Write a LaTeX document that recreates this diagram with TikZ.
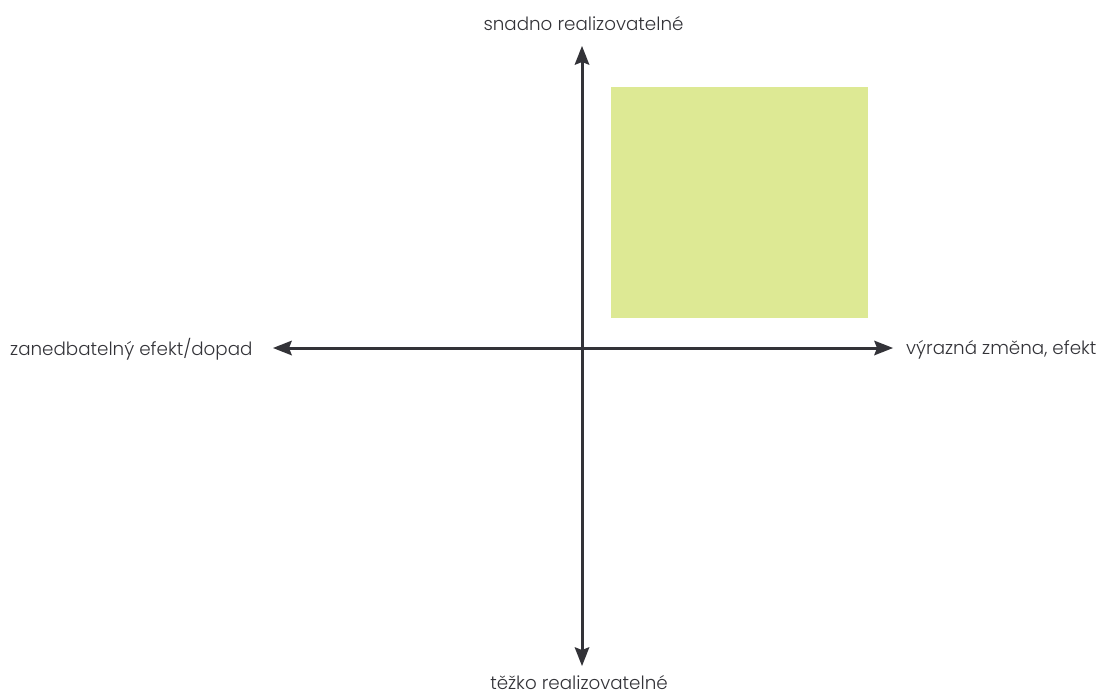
\documentclass[tikz,border=0pt]{standalone}
\usepackage{fontspec}
\setmainfont{Poppins Light}
\usetikzlibrary{arrows.meta}
\definecolor{axiscol}{HTML}{333338}
\definecolor{boxcol}{HTML}{DDE994}
\tikzset{
  tip/.tip={Stealth[length=19pt,width=15pt,inset=3pt,line width=0pt]},
  axis/.style={line width=3pt, draw=axiscol, tip-tip},
  lbl/.style={font=\fontsize{18.3}{22}\selectfont, text=axiscol, inner sep=0pt}
}
\begin{document}
\begin{tikzpicture}[x=1pt,y=1pt]
\useasboundingbox (0,0) rectangle (1099,-696);
\fill[boxcol] (611,-87) rectangle (868,-318);
\coordinate (top) at (582,-46);
\coordinate (bot) at (582,-666);
\coordinate (lft) at (273,-348);
\coordinate (rgt) at (893,-348);
\draw[axis] (bot) -- (top);
\draw[axis] (lft) -- (rgt);
\node[lbl, anchor=base] (tl) at (583.5,-30) {snadno realizovatelné};
\node[lbl, anchor=base] (bl) at (579,-689) {těžko realizovatelné};
\node[lbl, anchor=base west] (ll) at (10,-355) {zanedbatelný efekt/dopad};
\node[lbl, anchor=base west] (rl) at (906,-354) {výrazná změna, efekt};
\end{tikzpicture}
\end{document}
